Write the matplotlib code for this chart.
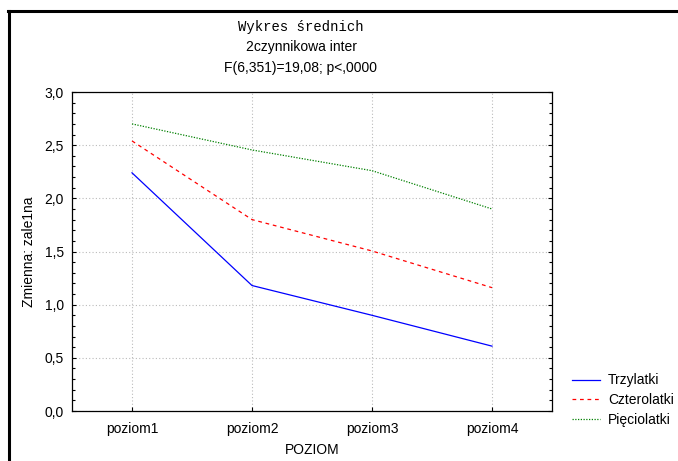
import numpy as np
import matplotlib
matplotlib.use("Agg")
import matplotlib.pyplot as plt
from matplotlib.lines import Line2D
from matplotlib.ticker import MultipleLocator

# ====================== dane ======================
poziomy = ["poziom1", "poziom2", "poziom3", "poziom4"]
trzylatki = [2.24, 1.18, 0.90, 0.61]
czterolatki = [2.54, 1.80, 1.505, 1.16]
pieciolatki = [2.70, 2.455, 2.26, 1.90]
serie = ["Trzylatki", "Czterolatki", "Pięciolatki"]

plt.rcParams['font.family'] = ['Liberation Sans', 'DejaVu Sans']
plt.rcParams['font.size'] = 10

W, H = 678, 461
fig = plt.figure(figsize=(W / 100, H / 100), dpi=100)
ax = fig.add_axes([72 / W, 1 - 411 / H, 480 / W, 319 / H])

x = np.arange(1, len(poziomy) + 1)
l1, = ax.plot(x, trzylatki, color='blue', lw=0.9, ls='-')
l2, = ax.plot(x, czterolatki, color='red', lw=0.9, ls=(0, (3, 3)))
l3, = ax.plot(x, pieciolatki, color='green', lw=0.9, ls=(0, (1, 1.2)))

ax.set_xlim(0.5, 4.5)
ax.set_ylim(0, 3.0)
ax.set_xticks(x)
ax.set_xticklabels(poziomy)
ax.yaxis.set_major_locator(MultipleLocator(0.5))
ax.yaxis.set_minor_locator(MultipleLocator(0.1))
ax.yaxis.set_major_formatter(lambda v, p: f"{v:.1f}".replace('.', ','))
ax.tick_params(axis='y', which='both', direction='in', right=True, length=3, width=0.8, pad=6)
ax.tick_params(axis='y', which='minor', length=2)
ax.tick_params(axis='x', direction='in', length=3, pad=8)
ax.grid(True, color='#bbbbbb', ls=(0, (1, 2)), lw=0.8)
for s in ax.spines.values():
    s.set_linewidth(0.9)

ax.set_xlabel("POZIOM", labelpad=5)
ax.set_ylabel("Zmienna: zale1na", labelpad=6)

# tytuł
fig.text(301 / W, 1 - 27 / H, "Wykres średnich", ha='center', va='center',
         family='Liberation Mono', fontsize=10)
fig.text(301 / W, 1 - 47 / H, "2czynnikowa inter", ha='center', va='center')
fig.text(301 / W, 1 - 68 / H, "F(6,351)=19,08; p<,0000", ha='center', va='center')

fig.legend([l1, l2, l3], serie, loc='center left', bbox_to_anchor=(572 / W, 1 - 400 / H),
           frameon=False, handlelength=2.0, handletextpad=0.6, labelspacing=0.4,
           borderaxespad=0, borderpad=0)

# ramka
fig.add_artist(Line2D([8 / W, 1], [1 - 11 / H, 1 - 11 / H], color='black', lw=2.2,
                      transform=fig.transFigure))
fig.add_artist(Line2D([9 / W, 9 / W], [1 - 11 / H, 0], color='black', lw=2.2,
                      transform=fig.transFigure))

fig.savefig("out.png", dpi=100)
